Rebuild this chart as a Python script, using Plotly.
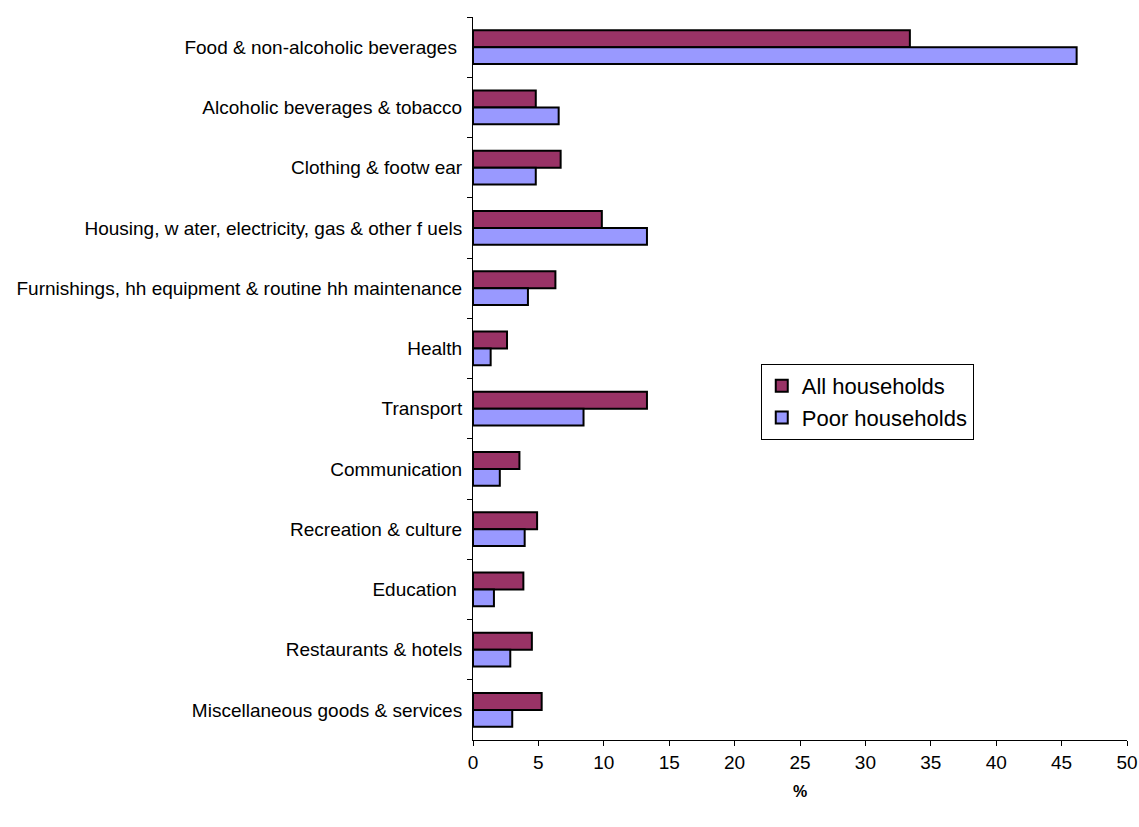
import plotly.graph_objects as go

categories = [
    "Food & non-alcoholic beverages ",
    "Alcoholic beverages & tobacco",
    "Clothing & footw ear",
    "Housing, w ater, electricity, gas & other f uels",
    "Furnishings, hh equipment & routine hh maintenance",
    "Health",
    "Transport",
    "Communication",
    "Recreation & culture",
    "Education ",
    "Restaurants & hotels",
    "Miscellaneous goods & services",
]
all_households = [33.4, 4.8, 6.7, 9.85, 6.3, 2.6, 13.3, 3.55, 4.9, 3.85, 4.5, 5.25]
poor_households = [46.15, 6.55, 4.8, 13.3, 4.2, 1.35, 8.45, 2.05, 3.95, 1.6, 2.85, 3.0]
x_ticks = [0, 5, 10, 15, 20, 25, 30, 35, 40, 45, 50]

FONT = "Liberation Sans, Arial, sans-serif"

fig = go.Figure()
fig.add_trace(go.Bar(
    y=categories, x=all_households, orientation="h", name="All households",
    marker=dict(color="#993366", line=dict(color="black", width=2)),
))
fig.add_trace(go.Bar(
    y=categories, x=poor_households, orientation="h", name="Poor households",
    marker=dict(color="#9999FF", line=dict(color="black", width=2)),
))

fig.update_layout(
    width=1139, height=827,
    margin=dict(l=473, r=12, t=17, b=87),
    paper_bgcolor="white", plot_bgcolor="white",
    barmode="group", bargap=0.44, bargroupgap=0,
    font=dict(family=FONT, size=19, color="black"),
    legend=dict(
        x=0.44, y=0.52, xanchor="left", yanchor="top",
        bordercolor="black", borderwidth=1, bgcolor="white",
        font=dict(size=22), tracegroupgap=0,
    ),
)
fig.update_xaxes(
    range=[0, 50], tickvals=x_ticks, showgrid=False, zeroline=False,
    showline=True, linecolor="black", linewidth=1, automargin=False,
    ticks="outside", ticklen=5, tickcolor="black",
    title=dict(text="<b>%</b>", font=dict(size=16), standoff=14),
)
fig.update_yaxes(
    autorange="reversed", showgrid=False, zeroline=False,
    showline=True, linecolor="black", linewidth=1, automargin=False,
    ticks="outside", ticklen=5, tickcolor="black", tickson="boundaries",
    ticklabelstandoff=6,
)

fig.write_html("out.html")
